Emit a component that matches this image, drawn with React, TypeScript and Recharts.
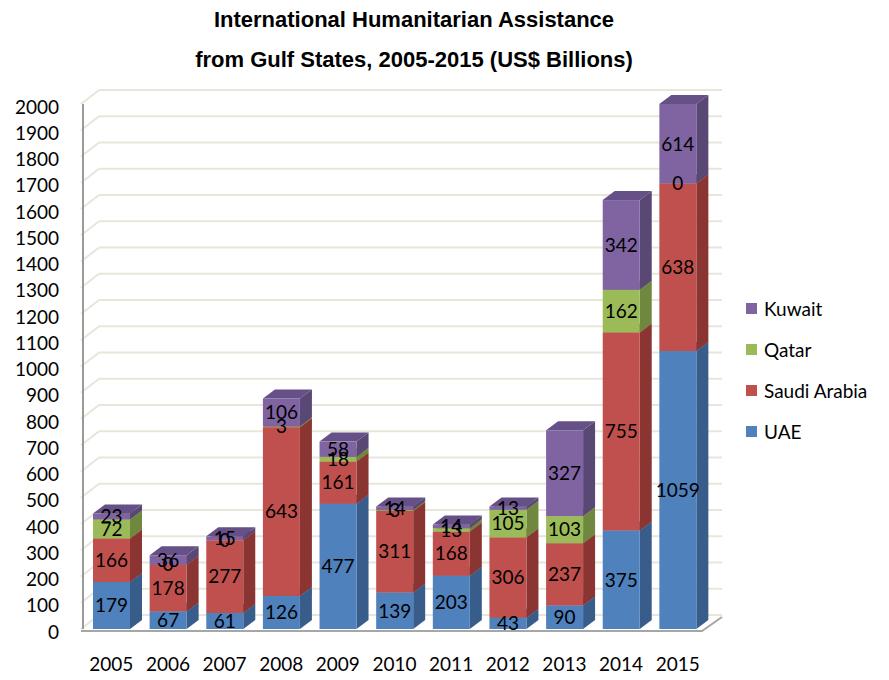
import React from "react";
import {
  BarChart,
  Bar,
  XAxis,
  YAxis,
  CartesianGrid,
  ReferenceLine,
  LabelList,
} from "recharts";

const years = ["2005", "2006", "2007", "2008", "2009", "2010", "2011", "2012", "2013", "2014", "2015"];
const uae = [179, 67, 61, 126, 477, 139, 203, 43, 90, 375, 1059];
const saudi = [166, 178, 277, 643, 161, 311, 168, 306, 237, 755, 638];
const qatar = [72, 0, 0, 3, 18, 3, 13, 105, 103, 162, 0];
const kuwait = [23, 36, 15, 106, 58, 14, 14, 13, 327, 342, 614];
const yTicks = [0, 100, 200, 300, 400, 500, 600, 700, 800, 900, 1000, 1100, 1200, 1300, 1400, 1500, 1600, 1700, 1800, 1900, 2000];

const AXIS_MAX = 2000;

// the source chart cuts bars off at the axis max (2015 only)
const data = years.map((year, i) => {
  const below = uae[i] + saudi[i] + qatar[i];
  return {
    year,
    uae: uae[i],
    saudi: saudi[i],
    qatar: qatar[i],
    kuwait: kuwait[i],
    kuwaitShown: Math.min(kuwait[i], AXIS_MAX - below),
  };
});

const series = [
  { key: "uae", label: "UAE", front: "#4F81BD", side: "#385D8A", top: "#42699C" },
  { key: "saudi", label: "Saudi Arabia", front: "#C0504D", side: "#8A3532", top: "#A0413E" },
  { key: "qatar", label: "Qatar", front: "#9BBB59", side: "#6F873E", top: "#819D47" },
  { key: "kuwait", label: "Kuwait", front: "#8064A2", side: "#594774", top: "#655087" },
];

const DX = 12;
const DY = 9;
const FONT = "Lato, 'Open Sans', sans-serif";

const make3D = (front: string, side: string, top: string) => (props: any) => {
  const { x, y, width: w, height: h } = props;
  if (w == null || h == null || !(h > 0)) return <g />;
  return (
    <g>
      <polygon
        points={`${x + w},${y} ${x + w + DX},${y - DY} ${x + w + DX},${y + h - DY} ${x + w},${y + h}`}
        fill={side}
      />
      <polygon
        points={`${x},${y} ${x + DX},${y - DY} ${x + w + DX},${y - DY} ${x + w},${y}`}
        fill={top}
      />
      <rect x={x} y={y} width={w} height={h} fill={front} />
    </g>
  );
};

const gridLine = (p: any) => {
  const { x1, x2, y1 } = p;
  return (
    <g key={`g-${y1}`}>
      <line x1={x1 - 2} y1={y1} x2={x1 + 16} y2={y1 - 14} stroke="#E8E6DA" strokeWidth={2} />
      <line x1={x1 + 16} y1={y1 - 14} x2={x2 + 16} y2={y1 - 14} stroke="#E8E6DA" strokeWidth={2} />
    </g>
  );
};

const floor = (p: any) => {
  const { x1, x2, y1 } = p;
  const y = y1 + 2;
  return (
    <polyline
      points={`${x1 - 2},${y} ${x2 - 4},${y} ${x2 + 16},${y - 14}`}
      fill="none"
      stroke="#A6A6A6"
      strokeWidth={2}
    />
  );
};

const labelStyle = { fill: "#000", fontSize: 19, fontFamily: FONT };

export default function App() {
  return (
    <div style={{ position: "absolute", left: 0, top: 0, width: 889, height: 680, background: "#fff" }}>
      <div
        style={{
          position: "absolute",
          left: 0,
          top: 0,
          width: 828,
          textAlign: "center",
          fontFamily: "'Liberation Sans', Arial, sans-serif",
          fontWeight: "bold",
          fontSize: 22,
          lineHeight: "40px",
          color: "#000",
        }}
      >
        <div>International Humanitarian Assistance</div>
        <div>from Gulf States, 2005-2015 (US$ Billions)</div>
      </div>

      <BarChart
        width={889}
        height={680}
        data={data}
        margin={{ top: 104, right: 183, bottom: 0, left: 0 }}
        barSize={37}
      >
        <CartesianGrid vertical={false} horizontal={gridLine} />
        <XAxis
          dataKey="year"
          axisLine={false}
          tickLine={false}
          tickSize={0}
          tickMargin={29}
          height={51}
          interval={0}
          tick={{ fill: "#000", fontSize: 19, fontFamily: FONT }}
        />
        <YAxis
          width={83}
          domain={[0, AXIS_MAX]}
          ticks={yTicks}
          interval={0}
          tickLine={false}
          tickSize={0}
          tickMargin={24}
          axisLine={{ stroke: "#9A9A9A", strokeWidth: 2 }}
          tick={{ fill: "#000", fontSize: 19, fontFamily: FONT, dy: 3 }}
        />
        <ReferenceLine y={0} stroke="none" shape={floor} />
        {series.map((s) => (
          <Bar
            key={s.key}
            dataKey={s.key === "kuwait" ? "kuwaitShown" : s.key}
            stackId="a"
            fill={s.front}
            shape={make3D(s.front, s.side, s.top)}
            isAnimationActive={false}
          >
            <LabelList dataKey={s.key} position="center" style={labelStyle} />
          </Bar>
        ))}
      </BarChart>

      <div style={{ position: "absolute", left: 746, top: 288, fontFamily: FONT, fontSize: 19, color: "#000" }}>
        {[...series].reverse().map((s) => (
          <div key={s.key} style={{ display: "flex", alignItems: "center", height: 41 }}>
            <span style={{ width: 11, height: 11, background: s.front, display: "inline-block", marginRight: 7 }} />
            <span>{s.label}</span>
          </div>
        ))}
      </div>
    </div>
  );
}
